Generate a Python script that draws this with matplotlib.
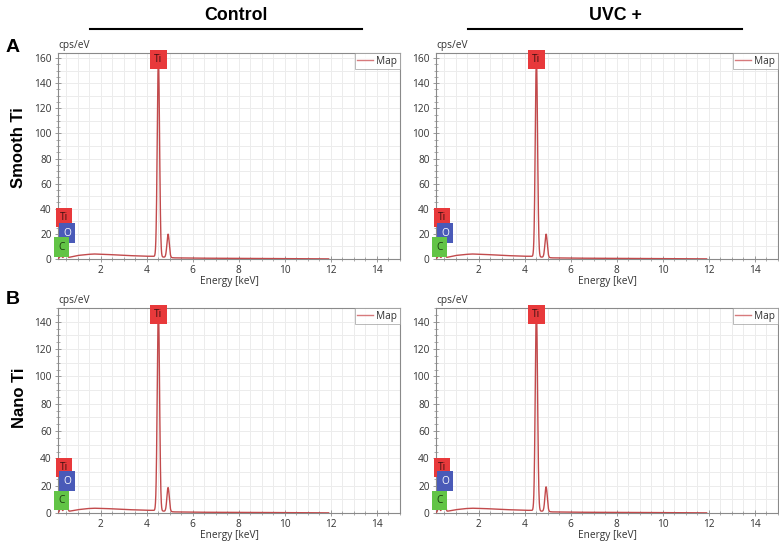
import numpy as np
import matplotlib
matplotlib.use("Agg")
import matplotlib.pyplot as plt
from matplotlib.ticker import MultipleLocator
import matplotlib.transforms as mtransforms

# ---------------- data ----------------
columns = ["Control", "UVC +"]
rows = ["Smooth Ti", "Nano Ti"]
row_letters = ["A", "B"]
y_top = [164, 150]
y_major = [20, 20]

# continuum (bremsstrahlung) samples, keV / cps/eV
bg_energy = [0.15, 0.22, 0.6, 0.75, 1.0, 1.4, 1.7, 2.2, 3.0, 3.8, 4.3, 5.2, 6.0, 8.0, 10.0, 11.9]
bg_smooth = [0.3, 1.0, 1.2, 1.8, 2.8, 3.6, 4.0, 3.7, 2.9, 2.3, 2.1, 0.9, 0.7, 0.5, 0.3, 0.1]
bg_nano = [0.3, 1.0, 1.2, 1.6, 2.4, 3.2, 3.5, 3.3, 2.6, 2.1, 1.9, 0.8, 0.6, 0.4, 0.3, 0.1]

# characteristic lines: C Ka, Ti La, O Ka, Ti Ka, Ti Kb
peak_energy = [0.277, 0.452, 0.525, 4.51, 4.93]
peak_sigma = [0.035, 0.035, 0.035, 0.05, 0.05]
peak_height_smooth_control = [2.0, 3.0, 3.5, 158, 18.5]
peak_height_smooth_uvc = [2.0, 3.0, 3.5, 158, 18.5]
peak_height_nano_control = [5.0, 13.0, 14.0, 148, 17.5]
peak_height_nano_uvc = [5.0, 15.0, 16.0, 148, 18.0]

element_labels = ["Ti", "O", "C"]
element_label_energy = [0.42, 0.56, 0.30]
element_label_frac = [[0.20, 0.126, 0.058], [0.22, 0.156, 0.063]]  # per row, fraction of axis height
element_colors = ["#e8393b", "#4a5ab8", "#62c446"]
element_text_colors = ["#3a1010", "white", "#1a3a10"]

LINE_C = "#c24a4c"


def spectrum(energy, bg, heights):
    e = np.asarray(energy)
    y = np.interp(e, bg_energy, bg)
    for mu, s, h in zip(peak_energy, peak_sigma, heights):
        y = y + h * np.exp(-0.5 * ((e - mu) / s) ** 2)
    return y


plt.rcParams["font.family"] = ["Open Sans", "DejaVu Sans"]
fig = plt.figure(figsize=(7.79, 5.46), dpi=100)

W, H = 779.0, 546.0
ax_px = {
    (0, 0): (58, 53, 400, 259),
    (0, 1): (436, 53, 778, 259),
    (1, 0): (58, 308, 400, 513),
    (1, 1): (436, 308, 778, 513),
}
heights_map = {
    (0, 0): (bg_smooth, peak_height_smooth_control),
    (0, 1): (bg_smooth, peak_height_smooth_uvc),
    (1, 0): (bg_nano, peak_height_nano_control),
    (1, 1): (bg_nano, peak_height_nano_uvc),
}

grid_c = "#ececec"
spine_c = "#8a8a8a"
tick_txt = "#333333"
FS = 7.3

for (r, c), (x0, y0, x1, y1) in ax_px.items():
    ax = fig.add_axes([x0 / W, 1 - y1 / H, (x1 - x0) / W, (y1 - y0) / H])
    e = np.linspace(0.15, 11.9, 2400)
    bg, hts = heights_map[(r, c)]
    ax.plot(e, spectrum(e, bg, hts), color=LINE_C, lw=1.0, label="Map", zorder=3)
    ax.set_xlim(0.15, 15.0)
    ax.set_ylim(0, y_top[r])
    ax.xaxis.set_major_locator(MultipleLocator(2))
    ax.xaxis.set_minor_locator(MultipleLocator(0.5))
    ax.yaxis.set_major_locator(MultipleLocator(y_major[r]))
    ax.yaxis.set_minor_locator(MultipleLocator(5))
    ax.grid(which="major", color=grid_c, lw=0.7, zorder=0)
    ax.xaxis.grid(which="minor", color=grid_c, lw=0.7, zorder=0)
    ax.set_axisbelow(True)
    for sp in ax.spines.values():
        sp.set_color(spine_c)
        sp.set_linewidth(0.8)
    ax.tick_params(which="major", direction="inout", length=5, width=0.6, color=spine_c,
                   labelsize=FS, labelcolor=tick_txt, pad=2)
    ax.tick_params(which="minor", direction="inout", length=3, width=0.5, color=spine_c)
    for yv in np.arange(10, y_top[r], 20):
        ax.axhline(yv, color=grid_c, lw=0.7, zorder=0)
    ax.set_xticks([2, 4, 6, 8, 10, 12, 14])
    ax.set_xlabel("Energy [keV]", fontsize=FS, color=tick_txt, labelpad=0)
    ax.text(0.0, 1.008, "cps/eV", transform=ax.transAxes, fontsize=FS, color=tick_txt,
            ha="left", va="bottom")
    leg = ax.legend(loc="upper right", fontsize=FS, handlelength=1.6, handletextpad=0.3,
                    borderpad=0.25, borderaxespad=0.0, frameon=True, fancybox=False)
    leg.get_frame().set_edgecolor("#9a9a9a")
    leg.get_frame().set_linewidth(0.6)
    for txt in leg.get_texts():
        txt.set_color(tick_txt)
    for ln in leg.get_lines():
        ln.set_color("#d77a7c")

    trans = mtransforms.blended_transform_factory(ax.transData, ax.transAxes)
    ax.text(peak_energy[3], 0.995, "Ti", transform=trans, ha="center", va="top", fontsize=FS,
            color="#3a1010", zorder=6,
            bbox=dict(boxstyle="square,pad=0.4", fc=element_colors[0], ec="none"))
    for lab, ex, fy, fc, tc in zip(element_labels, element_label_energy, element_label_frac[r],
                                   element_colors, element_text_colors):
        ax.text(ex, fy, lab, transform=trans, ha="center", va="center", fontsize=FS,
                color=tc, zorder=6, clip_on=False,
                bbox=dict(boxstyle="square,pad=0.4", fc=fc, ec="none"))

# headers
hdr_font = ["Liberation Sans", "DejaVu Sans"]
for cx, lx0, lx1, txt in [(236, 90, 362, columns[0]), (615, 468, 742, columns[1])]:
    fig.text(cx / W, 1 - 16 / H, txt, ha="center", va="center", fontsize=12.8,
             fontweight="bold", family=hdr_font)
    fig.add_artist(plt.Line2D([lx0 / W, lx1 / W], [1 - 29 / H, 1 - 29 / H], color="black", lw=1.5))

for (ly, ry), letter, row in zip([(48, 148), (300, 398)], row_letters, rows):
    fig.text(13 / W, 1 - ly / H, letter, ha="center", va="center", fontsize=14,
             fontweight="bold", family=hdr_font)
    fig.text(19 / W, 1 - ry / H, row, ha="center", va="center", fontsize=12,
             fontweight="bold", family=hdr_font, rotation=90)

fig.savefig("out.png", dpi=100)
